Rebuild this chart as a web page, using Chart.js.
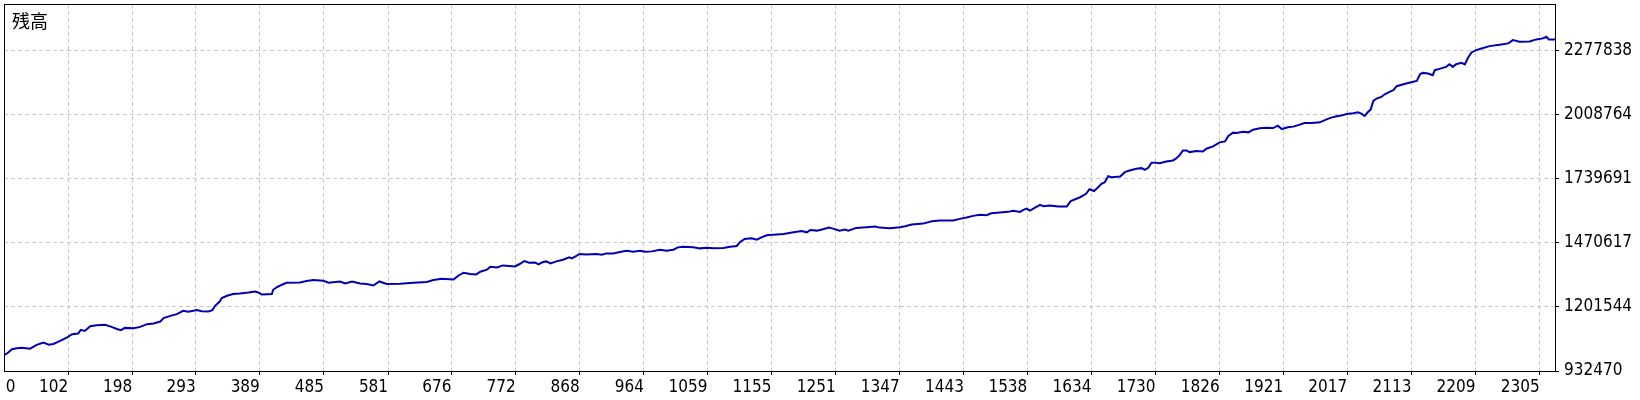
<!DOCTYPE html>
<html>
<head>
<meta charset="utf-8">
<script src="https://cdn.jsdelivr.net/npm/chart.js@4.4.1/dist/chart.umd.min.js"></script>
<style>
	html, body { margin: 0; padding: 0; background: #fff; }
	#wrap { position: relative; width: 1640px; height: 400px; }
	#title {
		position: absolute; left: 12px; top: 11px;
		font: 18px/1 "Noto Sans CJK JP", sans-serif; color: #000;
	}
</style>
</head>
<body>
<div id="wrap">
	<canvas id="balance-chart" width="1640" height="400"></canvas>
	<div id="title">残高</div>
</div>
<script>
// trade number and balance
const tradeNo = [
	6, 11, 18, 25, 33, 45, 55, 65, 73, 80, 90, 100, 108, 117, 121, 127, 135, 145, 157, 167,
	176, 181, 187, 200, 210, 220, 230, 240, 245, 255, 265, 274, 282, 295, 302, 312, 318, 322, 329, 332,
	340, 349, 359, 372, 382, 388, 392, 407, 409, 414, 422, 429, 449, 459, 469, 484, 492, 509, 517, 527,
	539, 549, 559, 568, 579, 599, 619, 639, 649, 661, 679, 686, 694, 704, 713, 719, 729, 734, 744, 753,
	771, 778, 785, 792, 801, 806, 813, 818, 824, 833, 843, 852, 856, 861, 868, 878, 893, 901, 908, 918,
	928, 938, 948, 958, 966, 976, 988, 998, 1008, 1015, 1023, 1038, 1048, 1058, 1068, 1083, 1093, 1103, 1108, 1115,
	1125, 1133, 1140, 1148, 1158, 1173, 1188, 1200, 1208, 1213, 1223, 1232, 1241, 1247, 1257, 1265, 1270, 1282, 1297, 1310,
	1317, 1332, 1347, 1355, 1365, 1382, 1395, 1407, 1427, 1437, 1447, 1457, 1467, 1477, 1484, 1497, 1509, 1517, 1527, 1532,
	1537, 1542, 1549, 1557, 1562, 1572, 1584, 1597, 1603, 1617, 1626, 1631, 1638, 1644, 1649, 1654, 1659, 1664, 1677, 1684,
	1691, 1701, 1709, 1714, 1719, 1724, 1731, 1736, 1746, 1756, 1761, 1766, 1771, 1776, 1781, 1791, 1801, 1806, 1816, 1826,
	1834, 1839, 1846, 1851, 1861, 1869, 1876, 1886, 1896, 1906, 1913, 1919, 1928, 1936, 1946, 1953, 1964, 1976, 1986, 1993,
	2001, 2008, 2016, 2026, 2033, 2038, 2043, 2048, 2052, 2056, 2061, 2068, 2073, 2081, 2086, 2091, 2101, 2111, 2121, 2126,
	2130, 2138, 2145, 2148, 2155, 2165, 2170, 2175, 2180, 2188, 2193, 2198, 2203, 2210, 2218, 2230, 2245, 2258, 2265, 2275,
	2290, 2300, 2310, 2315, 2319, 2328
];
const balance = [
	998480, 1006890, 1023700, 1027910, 1030430, 1026230, 1041780, 1051450, 1043040, 1045990,
	1058600, 1072470, 1086770, 1089290, 1104850, 1100640, 1120400, 1124610, 1125870, 1117460,
	1107790, 1103580, 1113250, 1111990, 1117460, 1128810, 1131330, 1139740, 1154040, 1163710,
	1170850, 1184730, 1180520, 1187670, 1183470, 1181780, 1187670, 1205750, 1223830, 1238120,
	1247790, 1254940, 1257460, 1261660, 1265870, 1260400, 1253260, 1254940, 1273020, 1282690,
	1294040, 1302450, 1303710, 1309590, 1313800, 1310850, 1302450, 1307910, 1299500, 1307910,
	1299500, 1296980, 1291090, 1307910, 1296980, 1298240, 1302450, 1305390, 1313800, 1319260,
	1316320, 1331880, 1344490, 1339020, 1337340, 1348690, 1357100, 1369710, 1366770, 1375180,
	1370980, 1381070, 1393680, 1386530, 1387790, 1379380, 1389470, 1392000, 1383590, 1392000,
	1399140, 1408810, 1404610, 1411760, 1423110, 1421430, 1423110, 1420170, 1425630, 1425630,
	1431520, 1436980, 1432780, 1436980, 1432780, 1434040, 1441190, 1436980, 1441190, 1450860,
	1453800, 1450860, 1446650, 1449600, 1446650, 1448330, 1453800, 1456740, 1473560, 1486170,
	1488700, 1483230, 1492900, 1501310, 1504250, 1507190, 1513920, 1519810, 1513920, 1524010,
	1521070, 1526530, 1533680, 1529480, 1521070, 1525270, 1521070, 1532420, 1534940, 1537890,
	1533680, 1530740, 1534940, 1539150, 1546290, 1550500, 1560170, 1563110, 1563110, 1570260,
	1575720, 1582870, 1587080, 1585390, 1593800, 1596750, 1599690, 1603890, 1599690, 1608100,
	1613560, 1605150, 1616510, 1629120, 1623230, 1626180, 1621970, 1621970, 1645090, 1661070,
	1675370, 1694700, 1687140, 1703110, 1717410, 1724130, 1749360, 1745160, 1748100, 1766180,
	1773320, 1780470, 1782990, 1776270, 1784680, 1805700, 1805700, 1804020, 1811160, 1815370,
	1823780, 1837650, 1857410, 1857410, 1850260, 1854470, 1853200, 1864560, 1874230, 1891040,
	1895250, 1917530, 1931830, 1930140, 1936030, 1933090, 1944440, 1949900, 1952850, 1951160,
	1961250, 1946960, 1954110, 1957050, 1965460, 1972190, 1972190, 1975130, 1987740, 1994890,
	2000360, 2003300, 2010020, 2012970, 2017170, 2011710, 2001620, 2018430, 2028520, 2064680,
	2074770, 2081500, 2092850, 2104200, 2109670, 2126480, 2134890, 2142040, 2148770, 2176930,
	2182400, 2179880, 2172730, 2193750, 2199220, 2207630, 2218980, 2207630, 2218980, 2224440,
	2217720, 2247150, 2268170, 2277840, 2284980, 2294650, 2300120, 2306010, 2319880, 2312730,
	2314410, 2322820, 2327030, 2333750, 2322820, 2322820
];

const xTickLabels = [0, 102, 198, 293, 389, 485, 581, 676, 772, 868, 964, 1059, 1155,
	1251, 1347, 1443, 1538, 1634, 1730, 1826, 1921, 2017, 2113, 2209, 2305];
const yTickValues = [932470, 1201544, 1470617, 1739691, 2008764, 2277838];

const xMin = 6, xMax = 2328;
const yMin = 932470, yMax = 2471250;
// "0" sits against the left edge, so its (hidden) tick is nudged inward
const firstTickPos = 23;

const lineColor = '#0000b4';
const gridColor = '#c8c8c8';
const labelFont = { family: '"DejaVu Sans Condensed", "Liberation Sans", sans-serif', size: 17 };

const points = tradeNo.map((t, i) => ({ x: t, y: balance[i] }));

const frameBox = {
	id: 'frameBox',
	afterDraw: (chart) => {
		const { ctx, chartArea: { top, bottom, left, right } } = chart;
		ctx.save();
		ctx.strokeStyle = '#000';
		ctx.lineWidth = 1;
		ctx.strokeRect(left + 0.5, top + 0.5, right - left, bottom - top);
		ctx.restore();
	}
};

// keep the plot box fixed, whatever room the labels would like
function noScalePadding(scale) {
	scale.paddingTop = 0;
	scale.paddingBottom = 0;
	scale.paddingLeft = 0;
	scale.paddingRight = 0;
}

new Chart(document.getElementById('balance-chart'), {
	type: 'line',
	data: {
		datasets: [{
			label: '残高',
			data: points,
			borderColor: lineColor,
			backgroundColor: lineColor,
			borderWidth: 2,
			pointRadius: 0,
			tension: 0,
			fill: false
		}]
	},
	options: {
		responsive: false,
		animation: false,
		layout: {
			padding: { left: 4, top: 4, right: 0, bottom: 0 }
		},
		plugins: {
			legend: { display: false },
			tooltip: { enabled: false }
		},
		scales: {
			x: {
				type: 'linear',
				min: xMin,
				max: xMax,
				afterBuildTicks: (scale) => {
					scale.ticks = xTickLabels.map((v, i) => ({ value: i === 0 ? firstTickPos : v }));
				},
				afterFit: (scale) => {
					scale.height = 29;
					noScalePadding(scale);
				},
				ticks: {
					autoSkip: false,
					maxRotation: 0,
					minRotation: 0,
					align: 'end',
					padding: 2,
					color: '#000',
					font: labelFont,
					callback: (value, index) => String(xTickLabels[index])
				},
				grid: {
					color: (ctx) => ctx.index === 0 ? 'rgba(0,0,0,0)' : gridColor,
					tickColor: (ctx) => ctx.index === 0 ? 'rgba(0,0,0,0)' : '#000',
					tickLength: 4
				},
				border: { display: false, dash: [4, 3] }
			},
			y: {
				type: 'linear',
				position: 'right',
				min: yMin,
				max: yMax,
				afterBuildTicks: (scale) => {
					scale.ticks = yTickValues.map(v => ({ value: v }));
				},
				afterFit: (scale) => {
					scale.width = 85;
					noScalePadding(scale);
				},
				ticks: {
					padding: 5,
					color: '#000',
					font: labelFont,
					callback: (value) => String(value)
				},
				grid: {
					color: gridColor,
					tickColor: '#000',
					tickLength: 4
				},
				border: { display: false, dash: [4, 3] }
			}
		}
	},
	plugins: [frameBox]
});
</script>
</body>
</html>
